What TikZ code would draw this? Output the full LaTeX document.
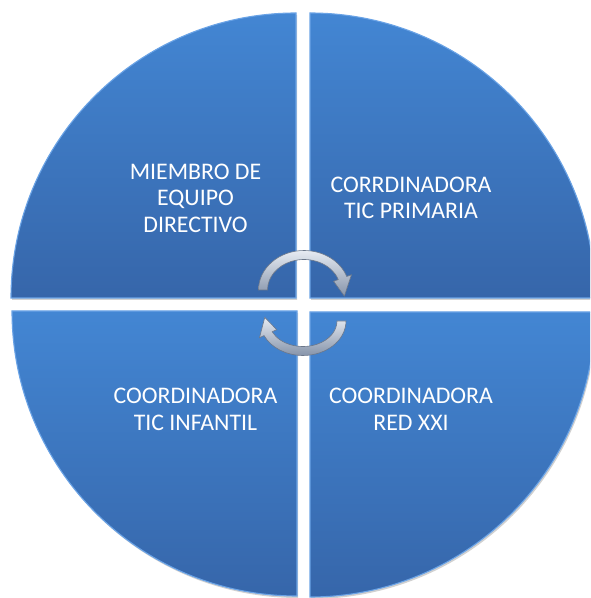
\documentclass[tikz,border=0pt]{standalone}
\usepackage{fontspec}
\setmainfont{Carlito}
\usetikzlibrary{calc}
\definecolor{qtop}{HTML}{4386D3}
\definecolor{qbot}{HTML}{3666AA}
\definecolor{qrim}{HTML}{6AA3E6}
\definecolor{arwlight}{HTML}{E6EBF2}
\definecolor{arwdark}{HTML}{8694AA}
\definecolor{arwedge}{HTML}{6B778A}
\tikzset{
  quad/.style={top color=qtop, bottom color=qbot, draw=qrim, line width=1.1pt},
  quadshadow/.style={fill=black, opacity=0.18},
  label/.style={text=white, align=center, font=\fontsize{23.8}{26.5}\selectfont, inner sep=0pt},
  arw/.style={top color=arwlight, bottom color=arwdark, draw=arwedge, line width=0.6pt},
}
\begin{document}
\begin{tikzpicture}[x=1pt,y=1pt]
\useasboundingbox (0,0) rectangle (590,598);
\clip (0,0) rectangle (590,598);
\fill[white] (0,0) rectangle (590,598);
\def\R{285}
% corners (pixel y converted: Y = 598 - y)
\coordinate (c1) at (296,300);
\coordinate (c2) at (310,300);
\coordinate (c3) at (297,287);
\coordinate (c4) at (310,286);
% shadows
\foreach \c/\a in {c1/90, c2/0, c3/180, c4/270}{
  \fill[quadshadow] ($(\c)+(1.2,-2)$) -- ++(\a:\R) arc[start angle=\a, end angle=\a+90, radius=\R] -- cycle;
}
% quadrants
\path[quad] (c1) -- ++(90:\R) arc[start angle=90, end angle=180, radius=\R] -- cycle;
\path[quad] (c2) -- ++(0:\R) arc[start angle=0, end angle=90, radius=\R] -- cycle;
\path[quad] (c3) -- ++(180:\R) arc[start angle=180, end angle=270, radius=\R] -- cycle;
\path[quad] (c4) -- ++(270:\R) arc[start angle=270, end angle=360, radius=\R] -- cycle;
% labels
\node[label] (tl) at (195.5,400) {MIEMBRO DE\\EQUIPO\\DIRECTIVO};
\node[label] (tr) at (411,400) {CORRDINADORA\\TIC PRIMARIA};
\node[label] (bl) at (195.5,188.5) {COORDINADORA\\TIC INFANTIL};
\node[label] (br) at (411,188.5) {COORDINADORA\\RED XXI};
% circular arrows
\coordinate (o1) at (304,308);
\coordinate (o2) at (303,277);
\path[arw] ($(o1)+(180:45.5 and 39.5)$) arc[start angle=180, end angle=20, x radius=45.5, y radius=39.5]
  -- ($(o1)+(20:50.5 and 44.5)$) -- ($(o1)+(-10:41 and 35)$) -- ($(o1)+(20:31.5 and 25.5)$)
  -- ($(o1)+(20:36.5 and 30.5)$) arc[start angle=20, end angle=180, x radius=36.5, y radius=30.5] -- cycle;
\path[arw] ($(o2)+(0:43 and 34.5)$) arc[start angle=0, end angle=-155, x radius=43, y radius=34.5]
  -- ($(o2)+(-155:48 and 39.5)$) -- ($(o2)+(-187:38.5 and 30)$) -- ($(o2)+(-155:29 and 20.5)$)
  -- ($(o2)+(-155:34 and 25.5)$) arc[start angle=-155, end angle=0, x radius=34, y radius=25.5] -- cycle;
\end{tikzpicture}
\end{document}
